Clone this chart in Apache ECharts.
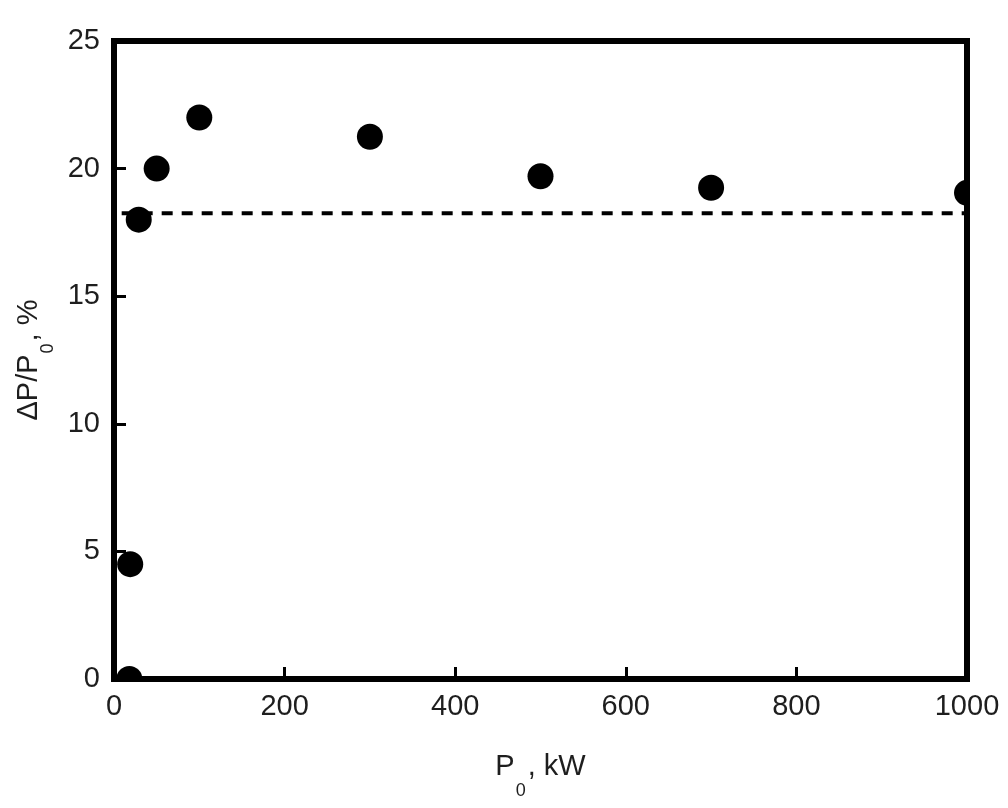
<!DOCTYPE html>
<html><head><meta charset="utf-8">
<script src="https://cdn.jsdelivr.net/npm/echarts@6/dist/echarts.min.js"></script>
<style>html,body{margin:0;padding:0;background:#fff}#c{width:1008px;height:808px}</style>
</head><body><div id="c"></div>
<script>
const powerKW = [19, 18, 29, 50, 100, 300, 500, 700, 1000];
const dropPct = [4.5, 0.0, 18.0, 20.0, 22.0, 21.25, 19.7, 19.25, 19.05];
const refLineX = [9, 1000];
const refLineY = [18.25, 18.25];
const xTicks = [0, 200, 400, 600, 800, 1000];
const yTicks = [0, 5, 10, 15, 20, 25];

const G = {left: 114, right: 41, top: 41, bottom: 129};
const W = 1008, H = 808;
const gx0 = G.left, gx1 = W - G.right, gy0 = G.top, gy1 = H - G.bottom;

const chart = echarts.init(document.getElementById('c'));
const font = 'Liberation Sans, Arial, sans-serif';
const txt = '#1e1e1e';
chart.setOption({
  animation: false,
  grid: {left: G.left, right: G.right, top: G.top, bottom: G.bottom, show: false},
  xAxis: {
    type: 'value', min: xTicks[0], max: xTicks[xTicks.length-1], interval: 200,
    name: '{m|P}{s|0}{m|, kW}', nameLocation: 'middle', nameGap: 73,
    nameTextStyle: {rich: {
      m: {fontSize: 29, color: txt, fontFamily: font, verticalAlign: 'top', lineHeight: 30},
      s: {fontSize: 18, color: txt, fontFamily: font, verticalAlign: 'top', lineHeight: 18, padding: [30, 2, 0, 1]}
    }},
    axisLine: {show: false},
    axisTick: {show: true, inside: true, length: 12, lineStyle: {color: '#000', width: 3}},
    axisLabel: {fontSize: 29, color: txt, fontFamily: font, margin: 13, formatter: v => String(v)},
    splitLine: {show: false}
  },
  yAxis: {
    type: 'value', min: yTicks[0], max: yTicks[yTicks.length-1], interval: 5,
    name: '{m|ΔP/P}{s|0}{m|, %}', nameLocation: 'middle', nameGap: 58, nameRotate: 90,
    nameTextStyle: {rich: {
      m: {fontSize: 29, color: txt, fontFamily: font, verticalAlign: 'top', lineHeight: 30},
      s: {fontSize: 18, color: txt, fontFamily: font, verticalAlign: 'top', lineHeight: 18, padding: [24, 2, 0, 1]}
    }},
    axisLine: {show: false},
    axisTick: {show: true, inside: true, length: 12, lineStyle: {color: '#000', width: 3}},
    axisLabel: {fontSize: 29, color: txt, fontFamily: font, margin: 14},
    splitLine: {show: false}
  },
  graphic: [
    {type: 'rect', z: 50, silent: true, shape: {x: gx0 - 10, y: gy1 + 3, width: gx1 - gx0 + 40, height: 12}, style: {fill: '#fff'}},
    {type: 'rect', z: 50, silent: true, shape: {x: gx1 + 3, y: gy0 - 10, width: 38, height: gy1 - gy0 + 22}, style: {fill: '#fff'}},
    {type: 'rect', z: 50, silent: true, shape: {x: gx0 - 10, y: gy0 - 10, width: 7, height: gy1 - gy0 + 22}, style: {fill: '#fff'}},
    {type: 'rect', z: 60, silent: true, shape: {x: gx0, y: gy0, width: gx1 - gx0, height: gy1 - gy0}, style: {fill: 'none', stroke: '#000', lineWidth: 6}}
  ],
  series: [
    {
      type: 'line', data: refLineX.map((x, i) => [x, refLineY[i]]), symbol: 'none', silent: true,
      lineStyle: {color: '#000', width: 4, type: [11, 9]}, z: 1
    },
    {
      type: 'scatter', data: powerKW.map((x, i) => [x, dropPct[i]]), symbol: 'circle', symbolSize: 26,
      itemStyle: {color: '#000', opacity: 1}, clip: false, z: 2
    }
  ]
});
</script></body></html>
